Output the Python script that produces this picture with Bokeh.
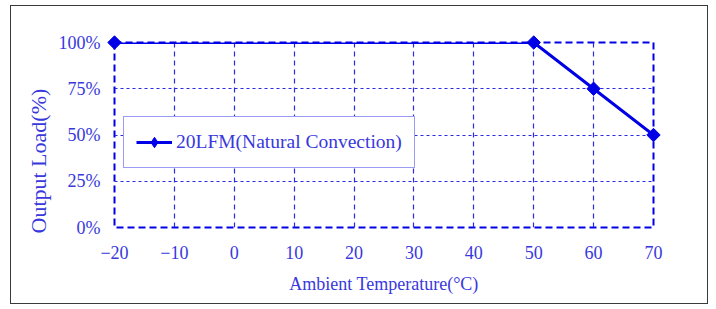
import math
from bokeh.plotting import figure
from bokeh.models import Range1d, FixedTicker, Title, LegendItem, Legend
from bokeh.embed import file_html
from bokeh.resources import INLINE

# Data
temps = [-20, 50, 60, 70]
loads = [100, 100, 75, 50]
x_ticks = [-20, -10, 0, 10, 20, 30, 40, 50, 60, 70]
y_ticks = [0, 25, 50, 75, 100]
y_tick_labels = ["0%", "25%", "50%", "75%", "100%"]
series_name = "20LFM(Natural Convection)"

LINE = "#0000e6"
TEXT = "#3838dd"
GRID = "#2a2ae0"
FONT = "Liberation Serif"

p = figure(width=698, height=299, output_backend="svg", toolbar_location=None,
           x_range=Range1d(-20, 70), y_range=Range1d(0, 100),
           min_border_left=103, min_border_right=56, min_border_top=36,
           min_border_bottom=78, title=None)
p.styles = {"border": "1.5px solid #3a3a3a", "margin-left": "10px",
            "margin-top": "5px"}

p.outline_line_color = LINE
p.outline_line_width = 2
p.outline_line_dash = "7 4"

# grids
p.xgrid.ticker = FixedTicker(ticks=x_ticks)
p.ygrid.ticker = FixedTicker(ticks=y_ticks)
p.xgrid.grid_line_color = GRID
p.xgrid.grid_line_dash = "5 4"
p.xgrid.grid_line_width = 1.2
p.ygrid.grid_line_color = GRID
p.ygrid.grid_line_dash = "3 3"
p.ygrid.grid_line_width = 1.2

# axes
for ax in (p.xaxis[0], p.yaxis[0]):
    ax.axis_line_color = None
    ax.major_tick_line_color = None
    ax.minor_tick_line_color = None
    ax.major_tick_out = 0
    ax.major_tick_in = 0
    ax.major_label_text_font = FONT
    ax.major_label_text_color = TEXT
    ax.major_label_text_font_size = "18px"

p.xaxis.ticker = FixedTicker(ticks=x_ticks)
p.xaxis.major_label_standoff = 18
p.xaxis.axis_label = "Ambient Temperature(°C)"
p.xaxis.axis_label_text_font = FONT
p.xaxis.axis_label_text_font_style = "normal"
p.xaxis.axis_label_text_font_size = "18px"
p.xaxis.axis_label_text_color = TEXT
p.xaxis.axis_label_standoff = 12

p.yaxis.ticker = FixedTicker(ticks=y_ticks)
p.yaxis.major_label_overrides = {t: l for t, l in zip(y_ticks, y_tick_labels)}
p.yaxis.major_label_standoff = 14

ytitle = Title(text="Output Load(%)", align="left", text_font=FONT,
               text_font_size="22px", text_font_style="normal",
               text_color=TEXT, offset=-6)
p.add_layout(ytitle, "left")

line_r = p.line(temps, loads, line_color=LINE, line_width=3)
p.scatter(temps, loads, marker="square", angle=math.pi / 4, size=9.5,
          fill_color=LINE, line_color=LINE, level="overlay")
# legend-only diamond, its one point lies outside the visible ranges
leg_marker = p.scatter(x=[-1000], y=[-1000], marker="diamond", size=13,
                       fill_color=LINE, line_color=LINE)

lg = Legend(items=[LegendItem(label=series_name, renderers=[line_r, leg_marker])])
lg.location = (9, 59)
lg.border_line_color = "#3a3aee"
lg.border_line_width = 1.5
lg.background_fill_alpha = 1
lg.padding = 12
lg.glyph_width = 36
lg.glyph_height = 26
lg.label_height = 26
lg.label_standoff = 4
lg.label_text_font = FONT
lg.label_text_font_size = "19.5px"
lg.label_text_color = TEXT
lg.margin = 0
p.add_layout(lg, "center")

open("out.html", "w").write(file_html(p, INLINE))
